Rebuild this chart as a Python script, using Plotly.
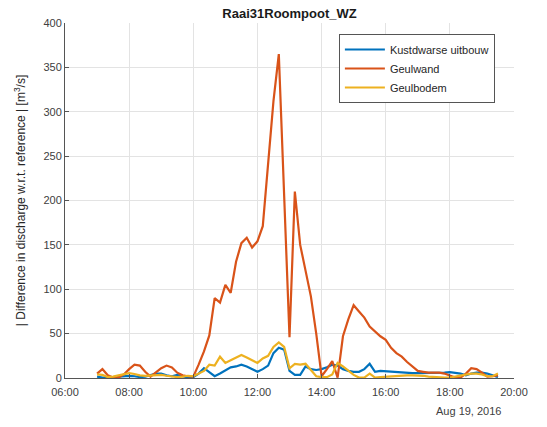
import pandas as pd
import plotly.graph_objects as go

# 10-minute samples on 19 Aug 2016, 07:00 .. 19:30
times = pd.date_range("2016-08-19 07:00", "2016-08-19 19:30", freq="10min")

kustdwarse_uitbouw = [
    1.5, 0.5, 0.5, 1, 2, 2, 2.5, 2, 1, 1.5, 3, 5,
    5, 3, 2, 3.5, 2, 0.5, 1, 5, 11, 6, 2, 5,
    9, 12, 13, 15, 13, 10, 7, 10, 14, 28, 34, 32,
    8, 3.5, 3.5, 13, 10, 9, 10, 12, 15, 14, 10, 8,
    7, 7, 10, 16, 7, 8, 7.5, 7, 6.5, 6, 5.5, 5.5,
    5.5, 5.5, 6, 6, 6, 6, 6.5, 6, 5, 3, 5, 6,
    6, 5, 3, 1,
]
geulwand = [
    5, 10, 3, 0.5, 0.5, 4, 10, 15, 14, 7, 1.5, 6,
    11, 14, 12, 6, 3, 2, 1.5, 15, 30, 48, 90, 85,
    105, 96, 131, 152, 158, 147, 154, 171, 240, 312, 365, 205,
    46, 210, 150, 121, 92, 50, 2, 10, 19, 0.5, 47, 66,
    82, 75, 68, 58, 52, 47, 43, 34, 28, 24, 18, 13,
    8, 7, 6, 6, 6, 5, 3, 0.5, 0.5, 5, 11, 10,
    6, 1.5, 2, 3,
]
geulbodem = [
    4, 3.5, 1, 1.5, 3, 4.5, 5.5, 4.5, 3, 2.5, 3, 3.5,
    3.5, 2.5, 1.5, 1, 1.5, 2.5, 2, 5, 8, 15, 14, 24,
    17, 20, 23, 26, 23, 20, 17, 22, 25, 35, 40, 35,
    11, 16, 15, 16, 9, 2, 1, 1, 4, 17, 13, 8,
    3.5, 0.5, 0.5, 5, 0.5, 1, 1.5, 2, 2, 2.5, 3, 3,
    3, 2.5, 1.5, 1, 0.5, 0.5, 0.5, 1.5, 3, 4, 5, 5,
    4, 2, 2, 5,
]

series = [
    ("Kustdwarse uitbouw", kustdwarse_uitbouw, "#0072BD"),
    ("Geulwand", geulwand, "#D95319"),
    ("Geulbodem", geulbodem, "#EDB120"),
]

fig = go.Figure()
for name, values, color in series:
    fig.add_trace(go.Scatter(
        x=times, y=values, mode="lines", name=name,
        line=dict(color=color, width=2.2),
    ))

font_family = "Liberation Sans, Arial, sans-serif"
axis_color = "#555555"
grid_color = "#e3e3e3"

fig.update_layout(
    width=547, height=427,
    margin=dict(l=65, r=33, t=23, b=49),
    paper_bgcolor="white", plot_bgcolor="white",
    font=dict(family=font_family, size=11, color="#404040"),
    title=dict(
        text="<b>Raai31Roompoot_WZ</b>",
        x=(65 + 514) / 2 / 547, xanchor="center",
        y=1 - 13 / 427, yanchor="middle",
        font=dict(size=13, color="#1a1a1a"),
    ),
    showlegend=True,
    legend=dict(
        x=0.61, y=0.969, xanchor="left", yanchor="top",
        bgcolor="white", bordercolor="#555555", borderwidth=1,
        font=dict(size=11, color="#262626"),
        itemwidth=40, tracegroupgap=0,
    ),
    xaxis=dict(
        type="date",
        range=["2016-08-19 06:00", "2016-08-19 20:00"],
        dtick=2 * 3600 * 1000,
        tick0="2016-08-19 06:00",
        tickformat="%H:%M",
        showgrid=True, gridcolor=grid_color, gridwidth=1,
        showline=True, linecolor=axis_color, linewidth=1,
        ticks="inside", ticklen=4, tickcolor=axis_color,
        ticklabelstandoff=4,
        zeroline=False,
        tickfont=dict(size=11, color="#404040"),
    ),
    yaxis=dict(
        range=[0, 400], dtick=50,
        showgrid=True, gridcolor=grid_color, gridwidth=1,
        showline=True, linecolor=axis_color, linewidth=1,
        ticks="inside", ticklen=4, tickcolor=axis_color,
        zeroline=False,
        tickfont=dict(size=11, color="#404040"),
        title=dict(
            text="| Difference in discharge w.r.t. reference | [m<sup>3</sup>/s]",
            font=dict(size=12, color="#262626"),
            standoff=15,
        ),
    ),
    annotations=[
        dict(
            text="Aug 19, 2016", xref="paper", yref="paper",
            x=(503 - 65) / 449, y=-(411 - 378) / 355,
            xanchor="right", yanchor="middle", showarrow=False,
            font=dict(size=11, color="#404040"),
        )
    ],
)

fig.write_html("out.html")
